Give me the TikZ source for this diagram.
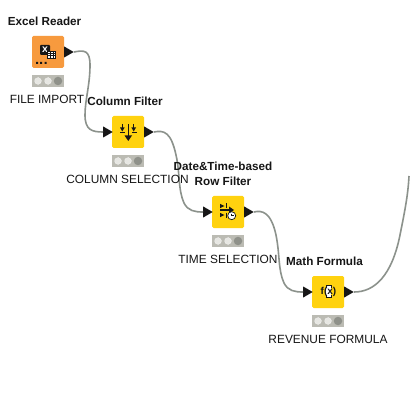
\documentclass[tikz,border=0pt]{standalone}
\usepackage{fontspec}
\setmainfont{Liberation Sans}
\usetikzlibrary{shapes.geometric,arrows.meta}
\definecolor{readerorange}{HTML}{F79A3E}
\definecolor{manipyellow}{HTML}{FFD20F}
\definecolor{wire}{HTML}{8C928C}
\definecolor{statusbg}{HTML}{BBBBB3}
\definecolor{lampoff}{HTML}{8F918A}
\definecolor{lampon}{HTML}{E6E6E2}
\definecolor{ink}{HTML}{161616}
\tikzset{
  x=1pt,y=-1pt,
  nodebox/.style={rectangle,rounded corners=1.5pt,minimum width=32pt,minimum height=32pt,inner sep=0pt},
  readerbox/.style={nodebox,fill=readerorange},
  manipbox/.style={nodebox,fill=manipyellow},
  port/.style={isosceles triangle,isosceles triangle apex angle=60,isosceles triangle stretches,fill=ink,inner sep=0pt,minimum width=11pt,minimum height=9.5pt,anchor=lower side},
  wireline/.style={draw=wire,line width=1.6pt},
  statusbar/.style={rectangle,fill=statusbg,minimum width=32pt,minimum height=11.5pt,inner sep=0pt},
  lampa/.style={circle,fill=lampon,draw=white,densely dotted,line width=.5pt,minimum size=7pt,inner sep=0pt},
  lampb/.style={circle,fill=lampoff,minimum size=8.5pt,inner sep=0pt},
  titletext/.style={font=\bfseries\fontsize{11.7}{15}\selectfont,text=ink,align=center,inner sep=0pt},
  labeltext/.style={font=\fontsize{11.9}{14}\selectfont,text=ink,inner sep=0pt},
  iconline/.style={draw=ink,line width=1pt},
}
\begin{document}
\begin{tikzpicture}
\useasboundingbox[fill=white] (0,0) rectangle (409,419);
% boxes
\node[readerbox] (n1) at (48,52) {};
\node[manipbox] (n2) at (128,132) {};
\node[manipbox] (n3) at (228,212) {};
\node[manipbox] (n4) at (328,292) {};
% ports
\node[port] (o1) at (64,52) {};
\node[port] (i2) at (103,132) {};
\node[port] (o2) at (144,132) {};
\node[port] (i3) at (203,212) {};
\node[port] (o3) at (244,212) {};
\node[port] (i4) at (303,292) {};
\node[port] (o4) at (344,292) {};
\coordinate (free) at (409,176);
% connectors
\draw[wireline] (o1.apex) .. controls (84,50) and (90,50) .. (90,65) .. controls (90,85) and (85,100) .. (85,115) .. controls (85,130) and (92,132) .. (i2.lower side);
\draw[wireline] (o2.apex) .. controls (164,130) and (171,132) .. (176,155) .. controls (180,172) and (178,190) .. (184,203) .. controls (188,211) and (195,212) .. (i3.lower side);
\draw[wireline] (o3.apex) .. controls (262,210) and (271,212) .. (276,235) .. controls (280,255) and (278,270) .. (284,283) .. controls (288,291) and (295,292) .. (i4.lower side);
\draw[wireline] (o4.apex) .. controls (375,292) and (392,275) .. (400,235) .. controls (405,210) and (408,195) .. (free);
% status bars
\foreach \n/\x/\y in {s1/48/81,s2/128/161,s3/228/241,s4/328/321}{
  \node[statusbar] (\n) at (\x,\y) {};
  \node[lampa] (\n a) at (\x-10,\y) {};
  \node[lampa] (\n b) at (\x,\y) {};
  \node[lampb] (\n c) at (\x+10,\y) {};
}
% titles
\node[titletext] (t1) at (44.5,21.5) {Excel Reader};
\node[titletext] (t2) at (125,101.5) {Column Filter};
\node[titletext] (t3) at (223,173.5) {Date\&Time-based\\Row Filter};
\node[titletext] (t4) at (324.5,261.5) {Math Formula};
% labels
\node[labeltext] (l1) at (47,99.5) {FILE IMPORT};
\node[labeltext] (l2) at (127.5,179.5) {COLUMN SELECTION};
\node[labeltext] (l3) at (228,259.5) {TIME SELECTION};
\node[labeltext] (l4) at (328,339.5) {REVENUE FORMULA};
% reader icon
\fill[ink,rounded corners=1pt] (40,45) rectangle (50,55);
\node[font=\bfseries\fontsize{10.5}{10}\selectfont,text=white,inner sep=0pt] (xglyph) at (45,49.5) {x};
\draw[fill=white,draw=ink,line width=.8pt] (47.5,51) rectangle (55.5,58);
\draw[ink,line width=.7pt] (47.5,53.5) -- (55.5,53.5) (47.5,55.8) -- (55.5,55.8) (50.2,51) -- (50.2,58) (52.9,51) -- (52.9,58);
\fill[ink] (36,62) rectangle +(2,2) (40,62) rectangle +(2,2) (44.5,62) rectangle +(2,2);
% column filter icon
\draw[iconline,line width=1.4pt] (128.3,124.5) -- (128.3,136);
\fill[ink] (124.5,135.5) -- (132,135.5) -- (128.3,141) -- cycle;
\draw[iconline,line width=.8pt] (122.3,124) -- (122.3,129) (133.7,124) -- (133.7,129);
\fill[ink] (120,127.5) -- (124.6,127.5) -- (122.3,131.5) -- cycle (131.4,127.5) -- (136,127.5) -- (133.7,131.5) -- cycle;
\draw[iconline] (120,133) -- (125,133) (132,133) -- (137,133);
% time filter icon
\draw[iconline,line width=1.4pt] (220,210) -- (231,210);
\fill[ink] (229,206.5) -- (234,210) -- (229,213.5) -- cycle;
\fill[ink] (220,203.8) -- (224.5,206) -- (220,208.2) -- cycle (220,212.8) -- (224.5,215) -- (220,217.2) -- cycle;
\draw[iconline,line width=.8pt] (226,203.5) -- (226,208.5) (226,212.5) -- (226,217.5);
\draw[fill=white,draw=ink,line width=.7pt] (231.7,215.7) circle (4);
\draw[ink,line width=.5pt] (231.7,213.5) -- (231.7,215.7) -- (233.5,215.7);
% formula icon
\fill[white] (326,285.5) rectangle (331,297.5);
\draw[ink,line width=.8pt] (331,285.5) -- (326,285.5) -- (326,288) (331,297.5) -- (326,297.5) -- (326,295);
\draw[ink,line width=.8pt] (326,285.5) -- (331,285.5) -- (331,288) (326,297.5) -- (331,297.5) -- (331,295);
\node[font=\bfseries\fontsize{10}{10}\selectfont,text=ink,inner sep=0pt] (fx) at (328.5,291.5) {f(x)};
\end{tikzpicture}
\end{document}
